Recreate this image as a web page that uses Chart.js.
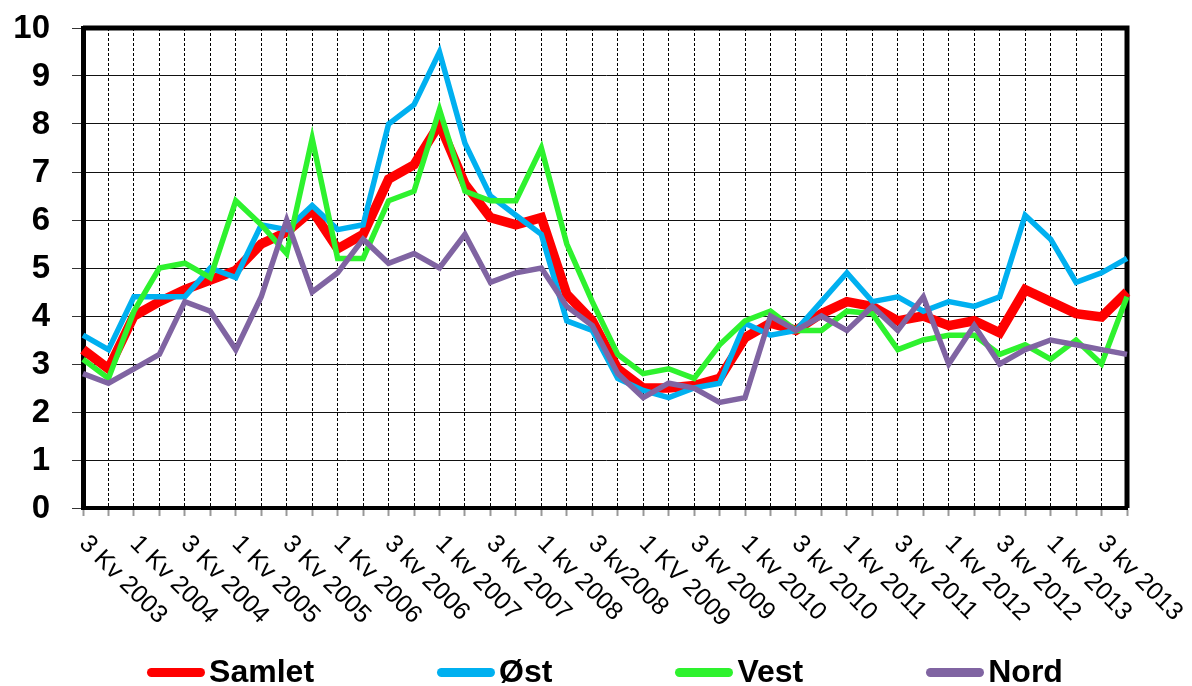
<!DOCTYPE html>
<html>
<head>
<meta charset="utf-8">
<title>Kvartalstall</title>
<script src="https://cdn.jsdelivr.net/npm/chart.js@4/dist/chart.umd.min.js"></script>
<style>
  html, body { margin: 0; padding: 0; background: #fff; }
  #wrap { position: relative; width: 1192px; height: 686px; overflow: hidden; }
  #legend {
    position: absolute; left: 83px; width: 1044px; top: 655px;
    display: flex; justify-content: center; gap: 123px;
    font: bold 32px Arial, "Liberation Sans", sans-serif; line-height: 32px; color: #000;
  }
  .item { display: flex; align-items: center; white-space: nowrap; }
  .swatch { width: 58px; height: 9px; border-radius: 5px; margin-right: 4px; margin-top: 3px; }
</style>
</head>
<body>
<div id="wrap">
  <canvas id="chart" width="1192" height="686"></canvas>
  <div id="legend"></div>
</div>
<script>
// quarters, 3 kv 2003 .. 4 kv 2013 (only every second one is printed)
const categories = [
  "3 Kv 2003", "4 Kv 2003", "1 Kv 2004", "2 Kv 2004", "3 Kv 2004", "4 Kv 2004",
  "1 Kv 2005", "2 Kv 2005", "3 Kv 2005", "4 Kv 2005", "1 Kv 2006", "2 Kv 2006",
  "3 kv 2006", "4 kv 2006", "1 kv 2007", "2 kv 2007", "3 kv 2007", "4 kv 2007",
  "1 kv 2008", "2 kv 2008", "3 kv2008", "4 kv 2008", "1 KV 2009", "2 kv 2009",
  "3 kv 2009", "4 kv 2009", "1 kv 2010", "2 kv 2010", "3 kv 2010", "4 kv 2010",
  "1 kv 2011", "2 kv 2011", "3 kv 2011", "4 kv 2011", "1 kv 2012", "2 kv 2012",
  "3 kv 2012", "4 kv 2012", "1 kv 2013", "2 kv 2013", "3 kv 2013", "4 kv 2013"
];

const samlet = [3.3, 2.9, 4.0, 4.3, 4.55, 4.75, 4.95, 5.5, 5.75, 6.2, 5.4, 5.7,
  6.85, 7.15, 8.0, 6.75, 6.05, 5.9, 6.05, 4.45, 3.9, 2.9, 2.5, 2.5, 2.55, 2.7,
  3.55, 3.85, 3.7, 4.05, 4.3, 4.2, 3.9, 4.0, 3.8, 3.9, 3.65, 4.55, 4.3, 4.05, 3.98, 4.5];
const ost = [3.6, 3.3, 4.4, 4.4, 4.4, 5.0, 4.8, 5.9, 5.8, 6.3, 5.8, 5.9,
  8.0, 8.4, 9.5, 7.6, 6.5, 6.1, 5.7, 3.9, 3.7, 2.7, 2.45, 2.3, 2.5, 2.6,
  3.85, 3.6, 3.7, 4.3, 4.9, 4.3, 4.4, 4.1, 4.3, 4.2, 4.4, 6.1, 5.6, 4.7, 4.9, 5.2];
const vest = [3.1, 2.7, 4.1, 5.0, 5.1, 4.8, 6.4, 5.9, 5.3, 7.7, 5.2, 5.2,
  6.4, 6.6, 8.3, 6.6, 6.4, 6.4, 7.5, 5.5, 4.3, 3.2, 2.8, 2.9, 2.7, 3.4,
  3.9, 4.1, 3.7, 3.7, 4.1, 4.05, 3.3, 3.5, 3.6, 3.6, 3.2, 3.4, 3.1, 3.5, 3.0, 4.4];
const nord = [2.8, 2.6, 2.9, 3.2, 4.3, 4.1, 3.3, 4.4, 6.0, 4.5, 4.9, 5.6,
  5.1, 5.3, 5.0, 5.7, 4.7, 4.9, 5.0, 4.2, 3.8, 2.8, 2.3, 2.6, 2.5, 2.2,
  2.3, 4.0, 3.7, 4.0, 3.7, 4.2, 3.7, 4.4, 3.0, 3.8, 3.0, 3.3, 3.5, 3.4, 3.3, 3.2];

const seriesNames = ["Samlet", "Øst", "Vest", "Nord"];
const seriesColors = ["#ff0000", "#00b0f0", "#2ef22e", "#8064a2"];
const seriesData = [samlet, ost, vest, nord];
const seriesWidths = [9.5, 5.5, 5.5, 5.5];

const FONT = 'Arial, "Liberation Sans", sans-serif';

// axis texts drawn by hand: slanted category labels (start at the tick, run
// down-right) and the bold value labels (built-in ones add padding on top)
const axisLabelPlugin = {
  id: 'axisLabels',
  afterDraw(chart) {
    const { ctx, chartArea } = chart;
    const x = chart.scales.x;
    const y = chart.scales.y;
    ctx.save();
    ctx.fillStyle = '#000';

    ctx.font = '25px ' + FONT;
    ctx.textAlign = 'left';
    ctx.textBaseline = 'middle';
    categories.forEach((label, i) => {
      if (i % 2) return;
      ctx.save();
      ctx.translate(x.getPixelForValue(i), chartArea.bottom + 32);
      ctx.rotate(Math.PI / 4);
      ctx.fillText(label, 0, 0);
      ctx.restore();
    });

    ctx.font = 'bold 33px ' + FONT;
    ctx.textAlign = 'right';
    y.ticks.forEach(t => {
      ctx.fillText(String(t.value), chartArea.left - 33, y.getPixelForValue(t.value) + 1);
    });
    ctx.restore();
  }
};

// top and right edge of the plot frame
const framePlugin = {
  id: 'frame',
  beforeDatasetsDraw(chart) {
    const { ctx, chartArea: a } = chart;
    ctx.save();
    ctx.strokeStyle = '#000';
    ctx.lineWidth = 5;
    ctx.beginPath();
    ctx.moveTo(a.left, a.top);
    ctx.lineTo(a.right, a.top);
    ctx.lineTo(a.right, a.bottom);
    ctx.stroke();
    ctx.restore();
  }
};

new Chart(document.getElementById('chart'), {
  type: 'line',
  data: {
    labels: categories,
    datasets: seriesNames.map((name, k) => ({
      label: name,
      data: seriesData[k],
      borderColor: seriesColors[k],
      backgroundColor: seriesColors[k],
      borderWidth: seriesWidths[k],
      pointRadius: 0,
      tension: 0,
      fill: false,
      order: seriesNames.length - k // Samlet at the bottom, Nord on top
    }))
  },
  options: {
    responsive: false,
    animation: false,
    layout: { padding: { top: 28, right: 65, left: 0, bottom: 0 } },
    plugins: { legend: { display: false }, tooltip: { enabled: false } },
    scales: {
      x: {
        ticks: { display: false },
        grid: { color: '#000', lineWidth: 1, tickLength: 8, tickColor: '#999', tickWidth: 2 },
        border: { display: true, color: '#000', width: 4, dash: [3, 2] },
        afterFit(scale) { scale.height = 178; }
      },
      y: {
        min: 0,
        max: 10,
        ticks: { stepSize: 1, display: false },
        grid: { color: '#111', lineWidth: 1, tickLength: 11, tickColor: '#333' },
        border: { color: '#000', width: 5 },
        afterFit(scale) { scale.width = 83; }
      }
    }
  },
  plugins: [axisLabelPlugin, framePlugin]
});

// legend under the plot
const legend = document.getElementById('legend');
seriesNames.forEach((name, k) => {
  legend.innerHTML += `<div class="item"><span class="swatch" style="background:${seriesColors[k]}"></span>${name}</div>`;
});
</script>
</body>
</html>
